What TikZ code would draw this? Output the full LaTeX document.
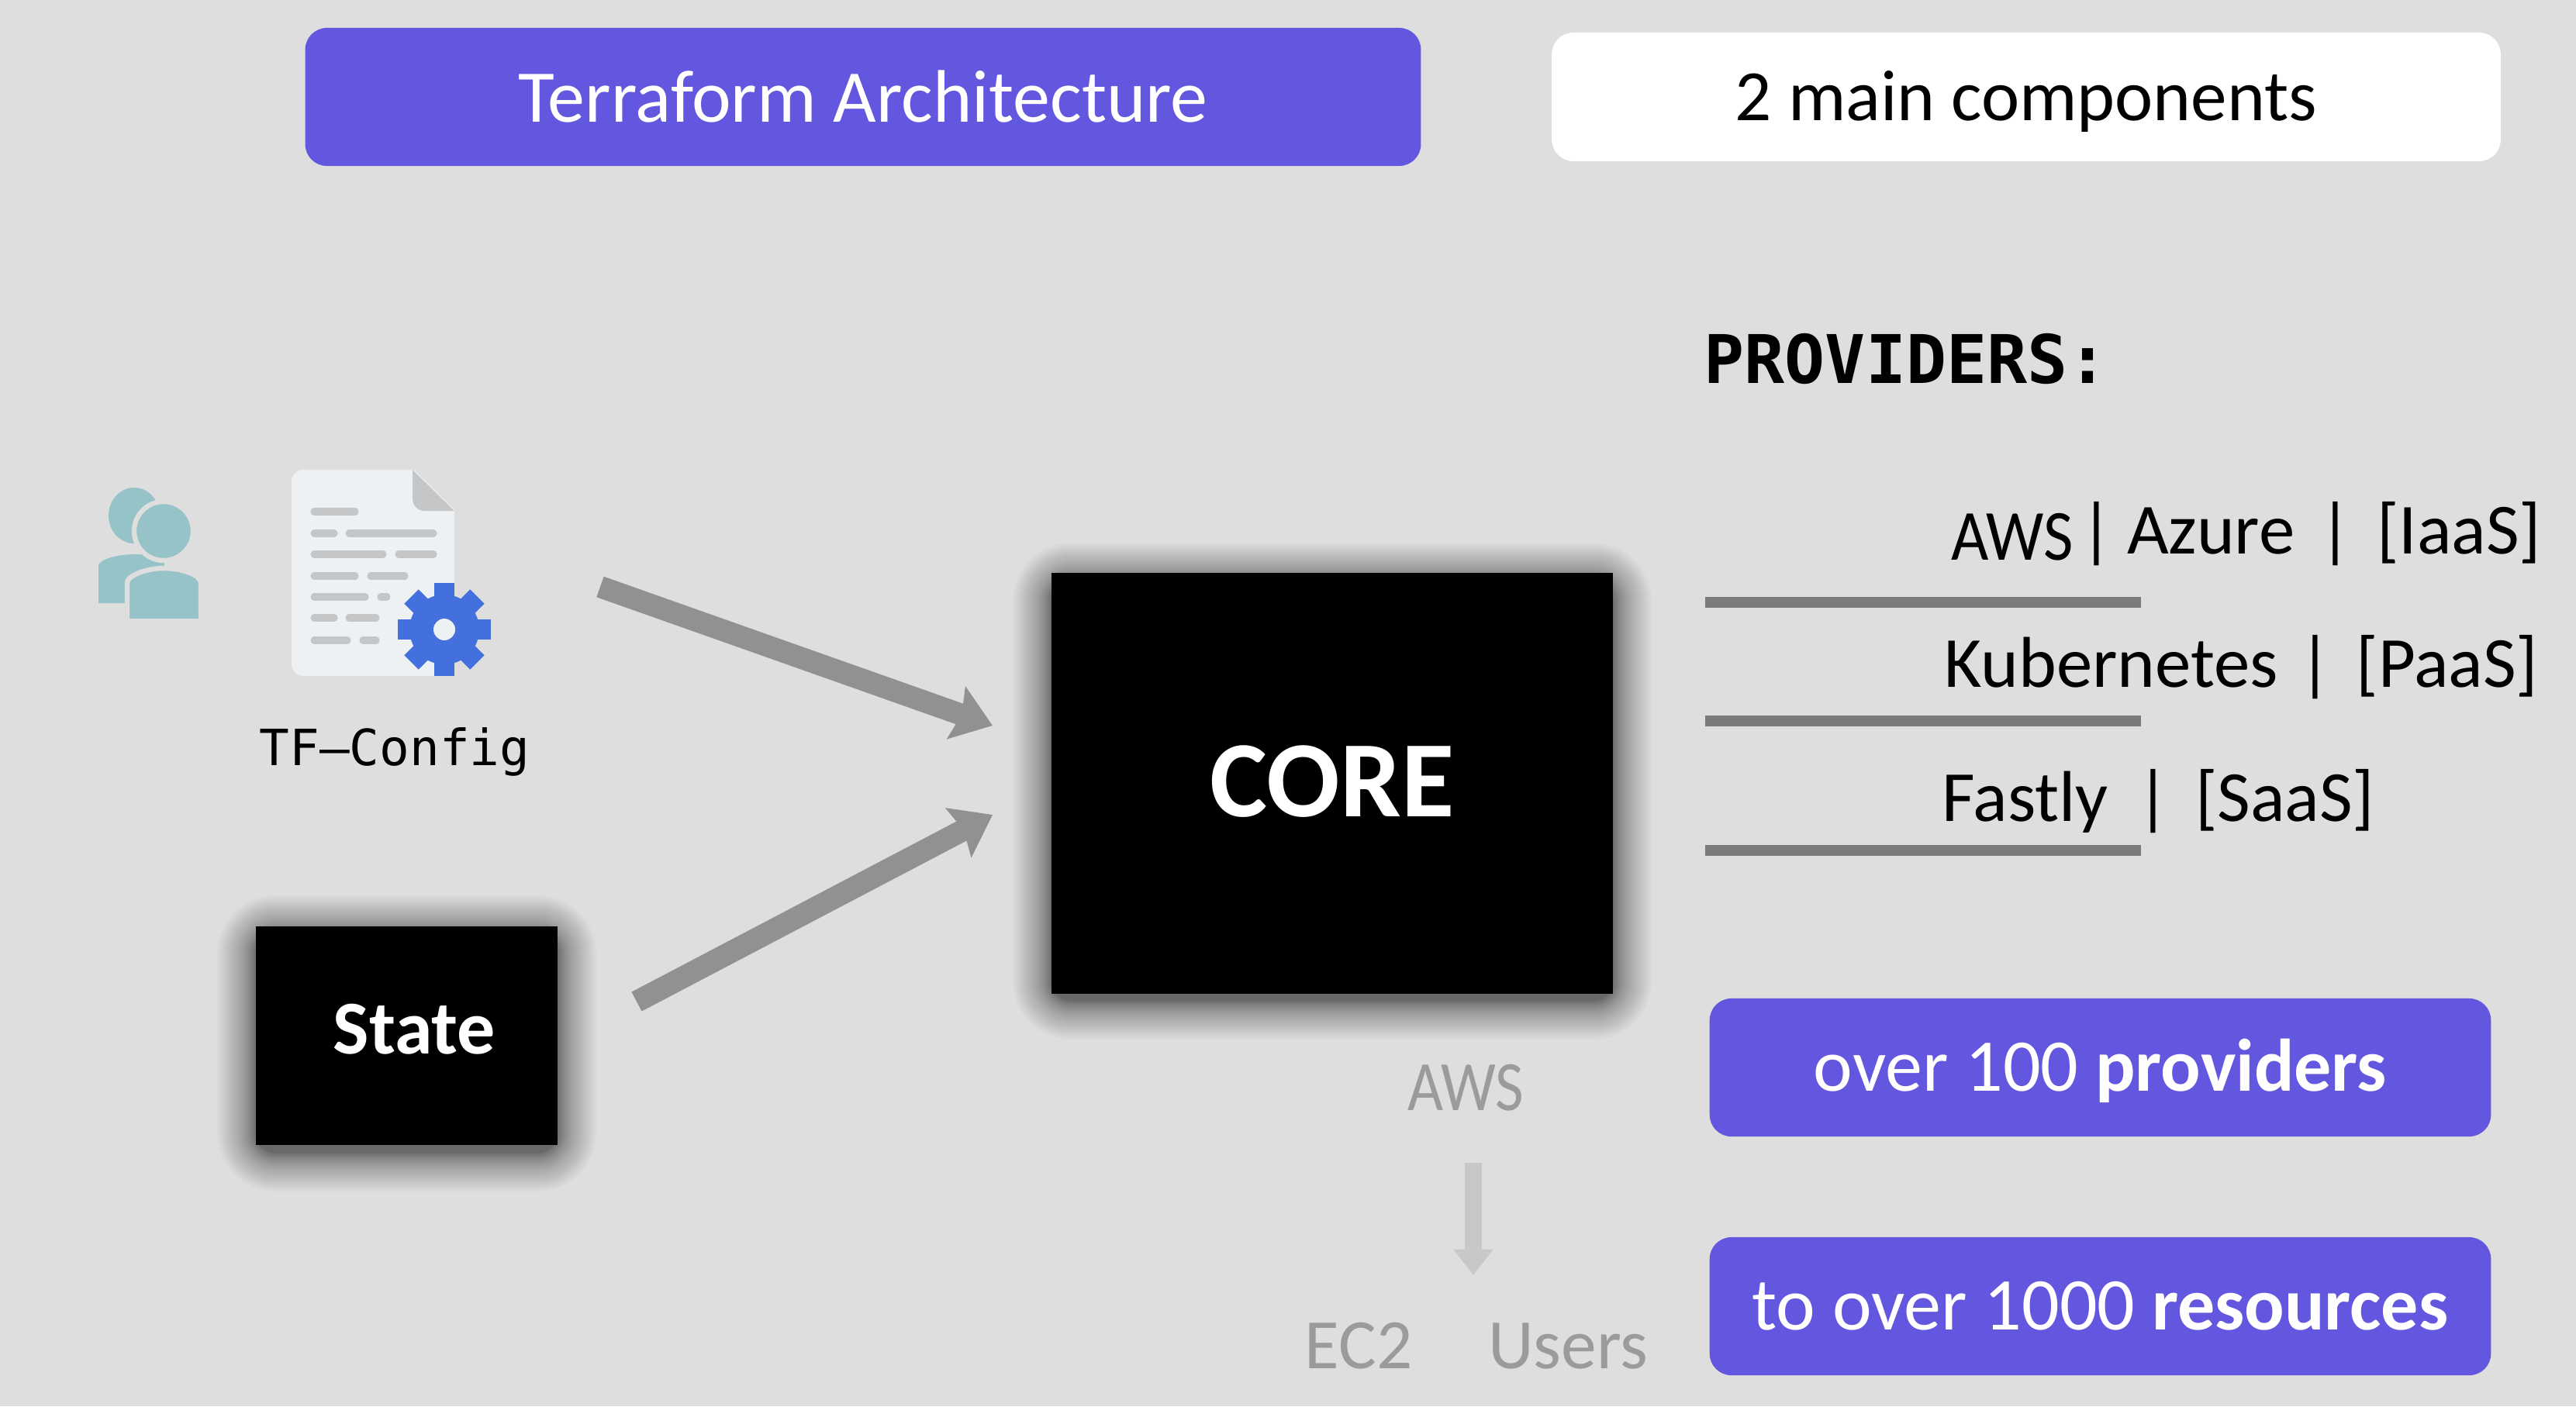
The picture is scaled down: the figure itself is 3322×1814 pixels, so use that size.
\documentclass[tikz,border=0pt]{standalone}
\usepackage{fontspec}
\setmainfont{Carlito}
\setmonofont{DejaVu Sans Mono}
\usetikzlibrary{arrows.meta}

\definecolor{slidebg}{HTML}{DEDEDE}
\definecolor{tfpurple}{HTML}{6457DF}
\definecolor{usercol}{HTML}{96C3C8}
\definecolor{pagecol}{HTML}{EEF1F4}
\definecolor{foldcol}{HTML}{C4C6C8}
\definecolor{gearcol}{HTML}{4470DE}

\newcommand{\softshadow}[4]{
	\foreach \i in {1, ..., 40} {
		\pgfmathsetmacro{\r}{50*(\i/40)^1.8}
		\fill[black, opacity=.016, rounded corners=(\r+25)*.01cm] (#1-\r, #2-\r+10) rectangle (#3+\r, #4+\r+10);
	}
}

\tikzset{
	pillbox/.style={fill=tfpurple, text=white, rounded corners=.28cm, minimum width=10.07cm, minimum height=1.78cm, inner sep=0pt, text height=.6cm, text depth=0pt, font=\fontsize{27.3}{32}\selectfont},
	blackbox/.style={fill=black, text=white, inner sep=0pt, font=\bfseries},
	provider/.style={anchor=base west, inner sep=0pt, font=\fontsize{26.4}{30}\selectfont},
	faded/.style={anchor=base, inner sep=0pt, text=black!30!slidebg, font=\fontsize{26}{32}\selectfont},
	bigarrow/.style={draw=black!43, line width=8pt, -{Stealth[length=14pt, width=20pt, inset=2pt]}},
}

\begin{document}
\begin{tikzpicture}[x=.01cm, y=-.01cm]
		\fill[slidebg] (0, 0) rectangle (3322, 1814);
		\useasboundingbox (0, 0) rectangle (3322, 1814);

		\node[pillbox, minimum width=14.38cm, text height=.64cm] (title) at (1113, 125) {Terraform Architecture};
		\node[pillbox, fill=white, text=black, minimum width=12.23cm, minimum height=1.66cm, font=\fontsize{26.5}{32}\selectfont] (count) at (2613, 125) {2 main components};

		% users
		\fill[usercol] (173, 665) ellipse (33 and 36);
		\fill[usercol] (127, 778) -- (127, 730) .. controls (127, 722) and (150, 715) .. (175, 715) -- (215, 715) -- (200, 778) -- cycle;
		\filldraw[usercol, draw=slidebg, line width=1.8pt] (211, 685) ellipse (38 and 38);
		\filldraw[usercol, draw=slidebg, line width=1.8pt] (164, 806) -- (164, 752) .. controls (164, 742) and (190, 733) .. (211, 733) .. controls (235, 733) and (259, 742) .. (259, 752) -- (259, 806) -- cycle;
		\fill[slidebg] (120, 798) rectangle (270, 812);

		% config page
		\fill[pagecol, rounded corners=.15cm] (376, 606) -- (586, 606) -- (586, 872) -- (376, 872) -- cycle;
		\fill[slidebg] (532, 604) -- (588, 604) -- (588, 659) -- cycle;
		\fill[foldcol] (532, 606) -- (586, 659) -- (548, 659) .. controls (538, 659) and (532, 652) .. (532, 642) -- cycle;
		\foreach \y/\a/\b/\c/\d in {660/400/463/0/0, 688/400/436/445/564, 715/400/499/509/564, 743/400/463/473/527, 770/400/476/486/504, 797/400/436/445/490, 826/400/453/463/490} {
			\draw[foldcol, line width=2.6pt, line cap=round] (\a+5, \y) -- (\b-5, \y);
			\ifnum\c>0
				\draw[foldcol, line width=2.6pt, line cap=round] (\c+5, \y) -- (\d-5, \y);
			\fi
		}

		% gear
		\fill[gearcol] (573, 812) circle (45);
		\foreach \a in {0, 45, ..., 315} {
			\fill[gearcol, rotate around={\a:(573, 812)}] (560, 752) rectangle (586, 790);
		}
		\fill[pagecol] (573, 812) circle (14);

		\node[anchor=base, inner sep=0pt, font=\ttfamily\fontsize{18.3}{22}\selectfont] (config) at (509, 987) {TF–Config};

		\softshadow{330}{1195}{719}{1477}
		\softshadow{1356}{740}{2080}{1281}
		\node[blackbox, minimum width=3.89cm, minimum height=2.82cm, font=\bfseries\fontsize{27.9}{30}\selectfont] (state) at (524.5, 1336) {\hspace{.2cm}\raisebox{.18cm}{State}};
		\node[blackbox, minimum width=7.24cm, minimum height=5.42cm, font=\bfseries\fontsize{39.8}{44}\selectfont] (core) at (1718, 1010.5) {\raisebox{.06cm}{CORE}};

		\coordinate (configout) at (774, 757);
		\coordinate (corein1) at (1280, 936);
		\coordinate (stateout) at (821, 1292);
		\coordinate (corein2) at (1280, 1051);
		\draw[bigarrow] (configout) -- (corein1);
		\draw[bigarrow] (stateout) -- (corein2);

		\node[anchor=base west, inner sep=0pt, font=\ttfamily\bfseries\fontsize{24.6}{28}\selectfont] (providers) at (2197, 494) {PROVIDERS:};

		\node[provider] (aws) at (2516, 714) {\raisebox{-.08cm}{\scalebox{.9}[1]{AWS}}\hspace{2.5pt}|\hspace{5pt}Azure\hspace{9pt}|\hspace{9pt}[IaaS]};
		\node[provider] (kube) at (2507, 886) {Kubernetes\hspace{7.5pt}|\hspace{9pt}[PaaS]};
		\node[provider] (fastly) at (2504, 1059) {Fastly\hspace{10.3pt}|\hspace{9.5pt}[SaaS]};
		\foreach \y in {777, 930, 1097} {
			\draw[black!45!slidebg, line width=4.1pt] (2199, \y) -- (2761, \y);
		}

		\node[pillbox] (hundred) at (2708.5, 1377) {over 100 \textbf{providers}};
		\node[pillbox] (thousand) at (2708.5, 1685) {to over 1000 \textbf{resources}};

		\node[faded] (awsgrey) at (1890, 1432) {\scalebox{.87}[1]{AWS}};
		\node[faded] (ec2) at (1752, 1765) {EC2};
		\node[faded] (users) at (2022, 1765) {Users};
		\coordinate (awsout) at (1900, 1500);
		\coordinate (ec2in) at (1900, 1645);
		\draw[draw=black!10!slidebg, line width=6pt, -{Stealth[length=9.5pt, width=14pt, inset=0pt]}] (awsout) -- (ec2in);
	\end{tikzpicture}
\end{document}
